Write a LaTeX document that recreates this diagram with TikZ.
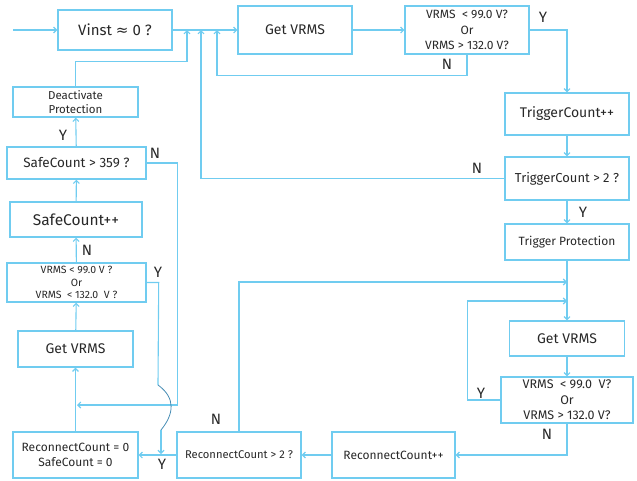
\documentclass[tikz,border=0pt]{standalone}
\usepackage{fontspec}
\setmainfont{Fira Sans}
\newfontfamily\symfont{DejaVu Sans}
\usetikzlibrary{calc, positioning, arrows.meta}

\definecolor{flowblue}{RGB}{112,204,240}
\definecolor{hopblue}{RGB}{70,140,180}
\definecolor{flowtext}{RGB}{40,40,40}

\begin{document}
\begin{tikzpicture}[
    x=1pt, y=-1pt,
    box/.style={draw=flowblue, line width=1.4pt, align=center, text=flowtext, inner sep=1pt},
    yn/.style={text=flowtext, font=\fontsize{15}{15}\selectfont, inner sep=0pt},
    arr/.style={draw=flowblue, line width=1.1pt, -{Straight Barb[length=3pt, width=6pt]}},
    line/.style={draw=flowblue, line width=1.1pt}
]
    \useasboundingbox (0,0) rectangle (637,480);

    % Nodes
    \node[box, minimum width=114, minimum height=40, font=\fontsize{15}{15}\selectfont] (vinst) at (115,30) {Vinst {\symfont ≈} 0 ?};
    \node[box, minimum width=114, minimum height=48, font=\fontsize{14}{14}\selectfont] (getA) at (295,30) {Get VRMS};
    \node[box, minimum width=124, minimum height=48, font=\fontsize{12}{15.5}\selectfont] (chkA) at (467,30) {VRMS\ \ < 99.0 V?\\Or\\VRMS > 132.0 V?};
    \node[box, minimum width=124, minimum height=42, font=\fontsize{14}{14}\selectfont] (tcinc) at (567,114) {TriggerCount++};
    \node[box, minimum width=124, minimum height=43, font=\fontsize{13}{13}\selectfont] (tcchk) at (567,178.5) {TriggerCount > 2 ?};
    \node[box, minimum width=124, minimum height=36, font=\fontsize{12}{12}\selectfont] (trig) at (567,242) {Trigger Protection};
    \node[box, minimum width=115, minimum height=35, font=\fontsize{14}{14}\selectfont] (getB) at (567,338.5) {Get VRMS};
    \node[box, minimum width=132, minimum height=46, font=\fontsize{12.5}{15.5}\selectfont] (chkB) at (567,400) {VRMS\ \ < 99.0\ \ V?\\Or\\VRMS > 132.0 V?};
    \node[box, minimum width=123, minimum height=46, font=\fontsize{12}{12}\selectfont] (rcinc) at (393.5,455) {ReconnectCount++};
    \node[box, minimum width=124, minimum height=46, font=\fontsize{11.2}{11.2}\selectfont] (rcchk) at (239,455) {ReconnectCount > 2 ?};
    \node[box, minimum width=125, minimum height=46, font=\fontsize{12}{15}\selectfont] (rczero) at (75.5,455) {ReconnectCount = 0\\SafeCount = 0};
    \node[box, minimum width=115, minimum height=36, font=\fontsize{14}{14}\selectfont] (getC) at (75.5,349) {Get VRMS};
    \node[box, minimum width=139, minimum height=39, font=\fontsize{10.5}{12.5}\selectfont] (chkC) at (76.5,282.5) {VRMS < 99.0 V ?\\Or\\VRMS\ \ < 132.0\ \ V ?};
    \node[box, minimum width=132, minimum height=35, font=\fontsize{15.5}{15.5}\selectfont] (scinc) at (76,219.5) {SafeCount++};
    \node[box, minimum width=139, minimum height=32, font=\fontsize{13.5}{13.5}\selectfont] (scchk) at (76.5,163) {SafeCount > 359 ?};
    \node[box, minimum width=125, minimum height=30, font=\fontsize{11.5}{13.5}\selectfont] (deact) at (75.5,102) {Deactivate\\Protection};

    % Joins
    \coordinate (start) at (13,30);
    \coordinate (joinA) at (187,30);
    \coordinate (joinB) at (201,30);
    \coordinate (joinC) at (217,30);
    \coordinate (joinD) at (567,282);
    \coordinate (joinE) at (567,301);
    \coordinate (joinF) at (77,405);
    \coordinate (joinG) at (161,454);

    % Arrows
    \draw[arr] (start) -- (vinst);
    \draw[arr] (vinst) -- (getA);
    \draw[arr] (getA) -- (chkA);
    \draw[arr] (chkA.east) -| (tcinc.north);
    \draw[arr] (tcinc) -- (tcchk);
    \draw[arr] (tcchk) -- (trig);
    \draw[arr] (trig.south) -- (getB.north);
    \draw[arr] (getB) -- (chkB);
    \draw[arr] (chkB.south) |- (rcinc.east);
    \draw[arr] (rcinc) -- (rcchk);
    \draw[arr] (rcchk) -- (rczero);
    \draw[arr] (rczero) -- (getC);
    \draw[arr] (getC) -- (chkC);
    \draw[arr] (chkC) -- (scinc);
    \draw[arr] (scinc) -- (scchk);
    \draw[arr] (scchk) -- (deact);

    % back to the top line
    \draw[arr] (deact.north) -- ++(0,-25) -| (joinA);
    \draw[arr] (tcchk.west) -| (joinB);
    \draw[arr] (chkA.south) -- ++(0,21) -| (joinC);

    % back into the second Get VRMS
    \draw[arr] (rcchk.north) |- (joinD);
    \draw[arr] (chkB.west) -- ++(-33,0) |- (joinE);

    % left column returns
    \draw[arr] (scchk.east) -- ++(31,0) |- (joinF);
    \draw[line] (chkC.east) -- ++(12,0) -- (158,385);
    \draw[hopblue, line width=0.8pt] (158,385) .. controls (176,398) and (174,414) .. (161,430);
    \draw[arr] (161,430) -- (joinG);

    % Labels
    \node[yn] (yA) at (543,17) {Y};
    \node[yn] (nA) at (447,64) {N};
    \node[yn] (nB) at (477,168) {N};
    \node[yn] (yB) at (583,212) {Y};
    \node[yn] (yC) at (481,393) {Y};
    \node[yn] (nC) at (547,434) {N};
    \node[yn] (nD) at (216,419) {N};
    \node[yn] (yD) at (162,464) {Y};
    \node[yn] (yE) at (158,272) {Y};
    \node[yn] (nE) at (87,250) {N};
    \node[yn] (yF) at (63,135) {Y};
    \node[yn] (nF) at (155,153) {N};

\end{tikzpicture}
\end{document}
